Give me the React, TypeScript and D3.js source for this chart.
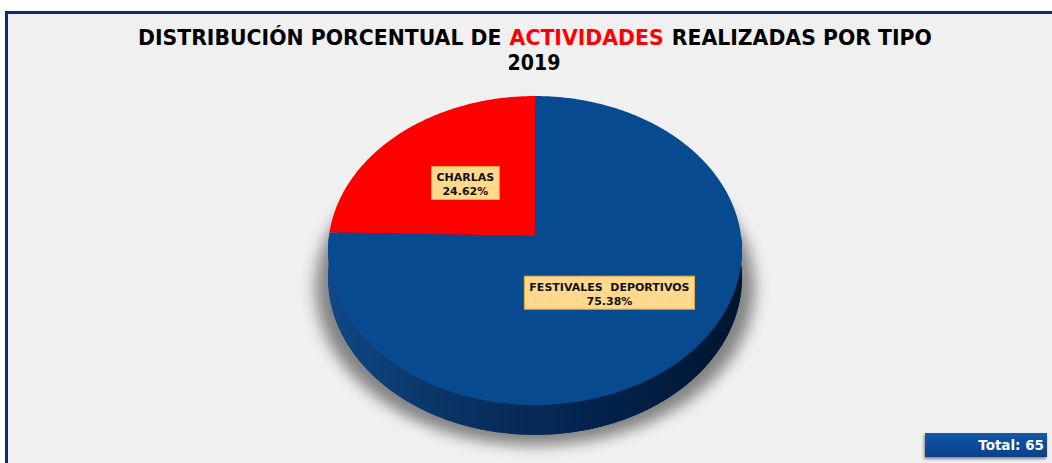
import React from "react";
import * as d3 from "d3";

// ---- data ----
const categories = ["FESTIVALES  DEPORTIVOS", "CHARLAS"];
const values = [49, 16];
const sliceColors = ["#074a90", "#fe0000"];
const titleParts = ["DISTRIBUCIÓN PORCENTUAL DE", "ACTIVIDADES", "REALIZADAS POR TIPO"];
const titleColors = ["#000000", "#fe0000", "#000000"];
const subtitle = "2019";
const totalLabel = "Total: ";

const W = 1052;
const H = 463;

// perspective projection of the pie disc
const CX = 535;
const R = 206;
const HORIZON = -1393;
const SCALE_Y = 1629;
const PERSP = -0.094;
const DEPTH = 27;

function proj(r: number, theta: number, h = 0): [number, number] {
  const z = -r * Math.cos(theta);
  const s = 1 / (1 + PERSP * z);
  const x = CX + R * r * Math.sin(theta) * s;
  const y = HORIZON + (SCALE_Y + h) * s;
  return [x, y];
}

function rim(a0: number, a1: number, h = 0, r = 1): [number, number][] {
  const n = Math.max(8, Math.ceil(Math.abs(a1 - a0) / 0.01));
  const pts: [number, number][] = [];
  for (let i = 0; i <= n; i++) {
    const t = a0 + ((a1 - a0) * i) / n;
    pts.push(proj(r, t, h));
  }
  return pts;
}

let _ctx: CanvasRenderingContext2D | null = null;
function measure(text: string, font: string): number {
  if (!_ctx) {
    const c = document.createElement("canvas");
    _ctx = c.getContext("2d");
  }
  if (!_ctx) return text.length * 7;
  _ctx.font = font;
  return _ctx.measureText(text).width;
}

export default function App() {
  const total = d3.sum(values);
  const pie = d3
    .pie<number>()
    .sort(null)
    .startAngle(0)
    .endAngle(2 * Math.PI);
  const arcs = pie(values);

  const closed = d3.line<[number, number]>().curve(d3.curveLinearClosed);

  const bottomFace = closed(rim(0, 2 * Math.PI, DEPTH)) || "";
  const sidePts = [
    ...rim(Math.PI / 2, (3 * Math.PI) / 2, 0),
    ...rim(Math.PI / 2, (3 * Math.PI) / 2, DEPTH).reverse(),
  ];
  const side = closed(sidePts) || "";
  const shadowPath = closed(rim(0, 2 * Math.PI, DEPTH + 6)) || "";

  const labelFont = "bold 11px 'DejaVu Sans'";

  // title layout: font size chosen so the three pieces fill the reference width,
  // then stretched vertically to the reference cap height
  const baseFs = 22;
  const titleFont = `bold ${baseFs}px 'DejaVu Sans'`;
  const titleX0 = 138;
  const titleW = 794;
  const rawW = titleParts.map((t) => measure(t, titleFont));
  const spaceW = measure(" ", titleFont);
  const k = Math.min(1, (titleW - 2) / (d3.sum(rawW) + spaceW * (titleParts.length - 1)));
  const fs = baseFs * k;
  const gap = spaceW * k + 1;
  const titleXs: number[] = [];
  let acc = titleX0;
  rawW.forEach((w) => {
    titleXs.push(acc);
    acc += w * k + gap;
  });
  const sy = baseFs / fs;

  return (
    <svg
      width={W}
      height={H}
      style={{ position: "absolute", left: 0, top: 0, background: "#ffffff" }}
      fontFamily="'DejaVu Sans', Verdana, sans-serif"
    >
      <defs>
        <linearGradient id="sideGrad" x1="0" x2="1" y1="0" y2="0">
          <stop offset="0" stopColor="#114785" />
          <stop offset="0.3" stopColor="#093363" />
          <stop offset="0.65" stopColor="#03224d" />
          <stop offset="1" stopColor="#00152f" />
        </linearGradient>
        <linearGradient id="totalGrad" x1="0" x2="0" y1="0" y2="1">
          <stop offset="0" stopColor="#1459aa" />
          <stop offset="1" stopColor="#083f8a" />
        </linearGradient>
        <filter id="blurShadow" x="-20%" y="-20%" width="140%" height="140%">
          <feGaussianBlur stdDeviation="7" />
        </filter>
        <filter id="boxShadow" x="-20%" y="-40%" width="140%" height="180%">
          <feDropShadow dx="-1" dy="2" stdDeviation="1.5" floodColor="#000" floodOpacity="0.45" />
        </filter>
      </defs>

      {/* chart frame */}
      <rect x={6.5} y={12.5} width={1100} height={500} fill="#f0f0f0" stroke="#0c2e6c" strokeWidth={3} />

      {/* title */}
      <g transform={`translate(0,45) scale(1,${sy}) translate(0,-45)`}>
        {titleParts.map((t, i) => (
          <text key={"t" + i} x={titleXs[i]} y={45} fontSize={fs} fontWeight="bold" fill={titleColors[i]}>
            {t}
          </text>
        ))}
      </g>
      <text x={534} y={70} fontSize={19} fontWeight="bold" textAnchor="middle" transform="translate(0,70) scale(1,1.08) translate(0,-70)">
        {subtitle}
      </text>

      {/* pie shadow */}
      <g transform="translate(0,4)">
        <path d={shadowPath} fill="#000" opacity={0.45} filter="url(#blurShadow)" transform={`translate(${CX},0) scale(1.06,1) translate(${-CX},0)`} />
      </g>

      {/* 3D body */}
      <path d={bottomFace} fill="url(#sideGrad)" />
      <path d={side} fill="url(#sideGrad)" />

      {/* top face slices */}
      {arcs.map((a, i) => {
        const pts: [number, number][] = [proj(0, 0), ...rim(a.startAngle, a.endAngle)];
        return <path key={i} d={closed(pts) || ""} fill={sliceColors[i]} />;
      })}

      {/* data labels */}
      {arcs.map((a, i) => {
        const mid = (a.startAngle + a.endAngle) / 2;
        const [lx, ly] = proj(0.5, mid);
        const pct = ((values[i] / total) * 100).toFixed(2) + "%";
        const w = Math.max(measure(categories[i], labelFont), measure(pct, labelFont)) + 10;
        const h = 33;
        return (
          <g key={"l" + i}>
            <rect x={lx - w / 2} y={ly - h / 2} width={w} height={h} fill="#fed98d" stroke="#f2a93a" strokeWidth={1} />
            <text x={lx} y={ly - 2} textAnchor="middle" fontSize={11} fontWeight="bold" fill="#111" style={{ whiteSpace: "pre" }}>
              {categories[i]}
            </text>
            <text x={lx} y={ly + 12} textAnchor="middle" fontSize={11} fontWeight="bold" fill="#111">
              {pct}
            </text>
          </g>
        );
      })}

      {/* total box */}
      <rect x={925} y={433} width={122} height={24} fill="url(#totalGrad)" filter="url(#boxShadow)" />
      <text x={1044} y={450} textAnchor="end" fontSize={13.5} fontWeight="bold" fill="#ffffff">
        {totalLabel + total}
      </text>
    </svg>
  );
}
